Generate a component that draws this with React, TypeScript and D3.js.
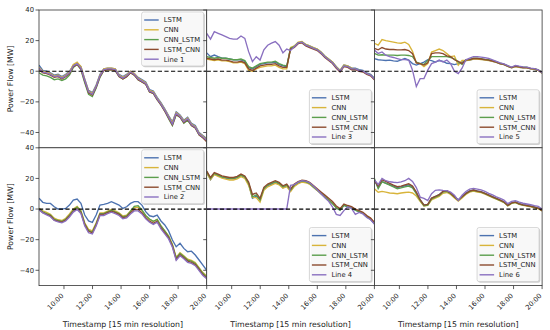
import * as d3 from "d3";

// readings across the window 08:15 - 20:00, one per column of the trace
const tStart = 8.25;
const tEnd = 20;
const times = d3.range(45).map((i) => tStart + (i * (tEnd - tStart)) / 44);
const tickHours = [10, 12, 14, 16, 18, 20];
const tickLabels = ["10:00", "12:00", "14:00", "16:00", "18:00", "20:00"];
const yTicks = [40, 20, 0, -20, -40];
const models = ["LSTM", "CNN", "CNN_LSTM", "LSTM_CNN"];
const colors = ["#4c72b0", "#d8b43a", "#5b9e4c", "#8c4b2e", "#8a70c0"];

// Line 1
const l1Lstm = [4, 0.5, 0, -1, -2.5, -2, -3.5, -2, 0, 4, 5.5, 3, -5, -12.5, -14, -9, -2, 1.5, 2, 2, 1.5, -2, -3.5, -2, 0, -1.5, -4, -5.5, -7, -12, -13, -17, -20.5, -24.5, -29, -33, -26.5, -28.5, -32, -30, -34, -35.5, -40, -42, -44];
const l1Cnn = [2.5, 0, -0.5, -1.5, -3, -2.5, -4, -2.5, -0.5, 4.5, 6, 3, -5.5, -13, -14.5, -9.5, -2.5, 1.5, 2, 2, 1.5, -2.5, -4, -2.5, 0, -1.5, -4.5, -6, -7.5, -12.5, -13.5, -17.5, -21, -25, -29.5, -33.5, -27, -29, -32.5, -30.5, -34.5, -36, -40.5, -42.5, -44.5];
const l1CnnLstm = [-1, -2.5, -3, -4, -5.5, -5, -6, -5, -2.5, 2.5, 4.5, 1, -7.5, -15, -16.5, -11, -4, 0.5, 1, 1, 0.5, -3.5, -5, -3.5, -1, -2.5, -5.5, -7, -8.5, -13.5, -14.5, -18.5, -22, -26, -31, -35.5, -28.5, -30, -34, -32, -35.5, -37, -41.5, -43.5, -45.5];
const l1LstmCnn = [1, -1, -1.5, -2.5, -4, -3.5, -5, -3.5, -1.5, 3, 4.5, 1.5, -6.5, -14, -15.5, -10.5, -3.5, 0.5, 1, 1, 0.5, -3.5, -5, -3.5, -1, -2.5, -5.5, -7, -8.5, -13.5, -14.5, -18.5, -22, -26, -30.5, -35, -28, -30, -33.5, -31.5, -35.5, -37, -41.5, -43.5, -46];
const l1Actual = [2, -0.5, -1, -2, -3.5, -3, -4.5, -3, -1, 3.5, 5, 2, -6, -13.5, -15, -10, -3, 1, 1.5, 1.5, 1, -3, -4.5, -3, -0.5, -2, -5, -6.5, -8, -13, -14, -18, -21.5, -25.5, -30, -34.5, -27.5, -29.5, -33, -31, -35, -36.5, -41, -43, -45];

// Line 2
const l2Lstm = [7, 4.4, 3.7, 3.7, 1.5, 0, 0, 0.4, 2.6, 5.9, 6.5, 3.7, -3.9, -7.8, -8.7, -3.9, 2.6, 3, 3.7, 4.8, 3.7, 2.6, 0.4, 1.5, 3.7, 4.8, 4.8, 2.6, -1.7, -4.4, -5, -3.9, -7.8, -10.4, -14.3, -20.2, -24.6, -22.4, -25.7, -27.9, -27.5, -30, -33.3, -36.6, -40];
const l2Cnn = [0.5, -1.2, -2.2, -3.5, -6, -7, -7.5, -6, -3.2, 0, 1.8, -1, -9, -13.2, -14.2, -9, -2.5, -2.5, -1.3, -0.3, -1.2, -2.5, -4.5, -4, -1.3, 1.2, 1.2, -1, -4.5, -6.8, -8.2, -6.8, -11, -14.3, -17.5, -23, -31.5, -28.5, -30.5, -32.8, -33.5, -35, -38.3, -41.5, -43.7];
const l2CnnLstm = [0.2, -1.8, -3, -4, -6.7, -7.4, -8, -6.7, -4, -0.8, 1.2, -1.5, -9.6, -14, -15, -9.6, -3, -3, -1.8, -0.8, -1.8, -3, -5.2, -4.5, -1.5, 1.8, 2.2, -0.5, -4.2, -6.5, -8, -6.8, -11, -14.3, -17.8, -23.5, -32, -29, -31, -33.3, -34, -35.5, -38.8, -42, -44.5];
const l2LstmCnn = [-0.3, -2.3, -3.4, -4.5, -7.2, -7.9, -8.5, -7.2, -4.6, -1.4, 0.3, -2.3, -10.2, -14.5, -15.6, -10.2, -3.5, -3.5, -2.4, -1.4, -2.4, -3.5, -5.7, -5.1, -2.4, -0.3, -0.3, -2.4, -5.7, -7.9, -9.4, -7.9, -12.2, -15.5, -18.7, -24.2, -32.8, -29.8, -31.8, -34, -34.8, -36.3, -39.5, -42.8, -45];
const l2Actual = [-0.5, -2.5, -3.8, -5, -7.5, -8.4, -9, -7.8, -5.2, -2, -0.3, -3, -11, -15.5, -16.3, -11, -4.2, -4.2, -3, -2, -3, -4.2, -6.3, -5.8, -3.2, -1.2, -1.2, -3.2, -6.4, -8.6, -10, -8.6, -13, -16.2, -19.5, -25, -33.5, -30.5, -32.5, -34.8, -35.5, -37, -40.2, -43.5, -45.5];

// Line 3
const l3Lstm = [12, 9.5, 10.6, 9.5, 8.5, 8.5, 8, 7.5, 7.5, 7.5, 6.5, 2.5, 1.5, 3, 4.5, 5, 5.5, 5.5, 6, 4.5, 3.5, 3, 15, 16.5, 18.5, 19, 17.5, 16.5, 15.5, 14.5, 12.5, 10, 8, 6, 3, 0.5, 4, 3.5, 2, 2, 1, 0.5, -1, -2, -4.5];
const l3Cnn = [8, 7.5, 7, 7.5, 6.8, 6.8, 6.3, 5.5, 5.5, 6, 5, 0.5, 0, 1.5, 2.5, 3, 3.5, 3.5, 4, 2.5, 1.5, 1.5, 15.5, 16.5, 19, 19.5, 17.5, 16.5, 15.5, 14.5, 12.5, 10, 8, 6, 3, 0.5, 4, 3.5, 2, 1.5, 0.5, 0, -1.5, -2.5, -5];
const l3CnnLstm = [9.5, 9, 8.5, 9, 8.5, 8.5, 8, 7.5, 7.5, 8, 7, 3, 2, 3.5, 5, 5.5, 6, 6, 6.5, 5, 4, 3.5, 15, 16, 18.5, 19, 17, 16, 15, 14, 12, 9.5, 7.5, 5.5, 2.5, 0, 3.5, 3, 1.5, 1.5, 0.5, 0, -1.5, -2.5, -5];
const l3LstmCnn = [8.5, 8, 7.5, 8, 7.3, 7.3, 6.8, 6, 6, 6.5, 5.5, 1.5, 0.5, 2, 3.5, 4, 4.5, 4.5, 5, 3.5, 2.5, 2.5, 14.5, 15.5, 18, 18.5, 16.5, 15.5, 14.5, 13.5, 11.5, 9, 7, 5, 2, -0.5, 3, 2.5, 1, 1, 0, -0.5, -2, -3, -5.5];
const l3Actual = [24.8, 21, 25.9, 24.8, 23.7, 22.6, 21.5, 21, 21, 23, 21.5, 12.8, 6.3, 9.5, 7.3, 14, 17, 18.3, 19.4, 17, 12, 14.5, 13.5, 16, 18.5, 19, 17, 16, 15, 14, 12, 9.5, 7.5, 5.5, 2.5, 0, 3.5, 3, 1.5, 1.5, 0.5, 0, -1.5, -2.5, -5];

// Line 4
const l4Lstm = [24.2, 19.2, 23, 22, 20.8, 20.2, 19.8, 19.8, 20.5, 22, 20.8, 16.5, 7, 8.5, 6, 13, 15.2, 16.3, 17.5, 16.3, 14, 15.2, 12, 15.2, 17, 18, 17.6, 16.5, 14.3, 12.2, 10, 7.8, 5.8, 3.6, 0.8, -0.8, 2.4, 1.4, 0.8, -0.8, -1.8, -2.9, -5.2, -6.7, -9.6];
const l4Cnn = [23.5, 19.3, 22.5, 21.4, 20.2, 19.6, 19, 19, 19.7, 21.2, 20, 15.5, 7.5, 7.5, 4.5, 12.2, 14.5, 15.6, 16.8, 15.8, 13.6, 14.6, 11.4, 14.8, 16.6, 17.6, 17.2, 16.2, 14.2, 12.1, 10, 7.9, 5.9, 3.8, 1.1, -0.4, 2.8, 1.9, 1.3, -0.3, -1.3, -2.4, -4.6, -6.1, -9];
const l4CnnLstm = [24.4, 20, 23.3, 22.2, 21, 20.5, 20, 20, 20.7, 22.2, 21, 16.8, 8, 9.2, 5.9, 13.5, 15.7, 16.8, 17.9, 16.8, 14.6, 15.7, 12.4, 15.7, 17.4, 18.3, 17.9, 16.8, 14.6, 12.4, 10.2, 8, 5.9, 3.7, 0.9, -0.7, 2.5, 1.5, 0.9, -0.7, -1.7, -2.8, -5, -6.5, -9.4];
const l4LstmCnn = [24.8, 20.6, 23.8, 22.8, 21.6, 21.1, 20.6, 20.6, 21.3, 22.8, 21.6, 17.6, 9.5, 10.5, 7, 14.2, 16.3, 17.4, 18.5, 17.4, 15.2, 16.3, 13, 16.3, 18, 18.9, 18.5, 17.5, 15.4, 13.3, 11.2, 9.1, 7, 4.9, 2, 0.3, 3.3, 2.3, 1.6, 0, -1, -2.1, -4.3, -5.9, -8.8];
const l4Actual = [0, 0, 0, 0, 0, 0, 0, 0, 0, 0, 0, 0, 0, 0, 0, 0, 0, 0, 0, 0, 0, 0, 15.5, 16, 17.6, 18.5, 18.2, 17.2, 15, 12.6, 10, 7.4, 5, 1.5, -3.5, -4.2, -1, 1.5, 0.5, -3.5, -2.2, -3.2, -5.5, -7, -9.8];

// Line 5
const l5Lstm = [8.3, 7.5, 7.3, 7, 7.3, 6.8, 6.5, 7.5, 8.3, 7.3, 5, 4, 5, 6, 7.5, 7, 6, 7, 6.5, 5.2, 5, 4.3, 5, 6, 7, 7.3, 8, 8, 7.8, 7.4, 7.1, 6.5, 5.8, 4.8, 4.3, 3.1, 2.2, 3.1, 2.6, 2.2, 2.2, 1.5, 1.3, 0.5, -1.2];
const l5Cnn = [18.3, 17, 20.7, 20, 19.5, 19, 18.5, 18.3, 19, 17.5, 13, 5.5, 5, 3, 5, 12.5, 13.5, 14.5, 13.5, 11.5, 9.5, 10, 4, 7, 7, 7.3, 8, 8, 7.7, 7.3, 7, 6.5, 5.8, 4.8, 4.3, 3.1, 2.2, 3.1, 2.6, 2.2, 2.2, 1.5, 1.3, 0.5, -1.2];
const l5CnnLstm = [11.6, 10.5, 10.8, 10.5, 10.5, 10.5, 10.3, 10.5, 10.5, 10.3, 9.5, 6, 5, 4.5, 7, 9.5, 9.5, 9.5, 9.5, 9.5, 9, 8, 6, 4.5, 7.5, 7.8, 8.5, 8.5, 8.2, 7.8, 7.5, 6.9, 6.2, 5.2, 4.7, 3.5, 2.6, 3.5, 3, 2.6, 2.6, 1.9, 1.7, 0.9, -0.8];
const l5LstmCnn = [15, 14, 15.5, 14.5, 14.2, 14.2, 14, 14, 14.2, 13.5, 11.5, 5.5, 5, 4, 5.5, 11.5, 12, 12, 11.5, 10, 9.5, 7.5, 6.5, 5, 7.3, 7.6, 8.3, 8.3, 8, 7.6, 7.3, 6.7, 6, 5, 4.5, 3.3, 2.4, 3.3, 2.8, 2.4, 2.4, 1.7, 1.5, 0.7, -1];
const l5Actual = [13.8, 11.6, 12.6, 10.5, 9.5, 9, 8.3, 7.6, 7.6, 7.3, 0.7, -10, -4.8, -4.8, 0.7, 5, 6, 7.3, 6, 7.3, 5, 0, -1.5, 2, 7.5, 8.5, 9.5, 9.5, 9.2, 8.8, 8.4, 7.5, 6.5, 5.5, 4.8, 3.6, 2.7, 3.8, 3.3, 2.9, 2.7, 2, 1.7, 0.9, -1];

// Line 6
const l6Lstm = [19, 14, 18, 17, 16, 15, 14, 14.5, 15.2, 15.8, 14.5, 10.5, 6, 2.5, 3, 7, 8.3, 9.5, 11.6, 12, 10.5, 8.2, 6, 8.2, 10.4, 11.8, 12.5, 11.8, 11.4, 10.3, 9.2, 8.1, 7, 5.9, 4.7, 2.5, 4.2, 4.7, 3.6, 2.9, 2.5, 2, 1.4, 0.7, -0.9];
const l6Cnn = [13.3, 11, 11.5, 11, 10.5, 10.3, 10, 10.5, 10.8, 11, 10.5, 8.5, 5, 2, 2.4, 6, 7.2, 8.3, 10.3, 10.8, 9.5, 7.3, 5.2, 7.3, 9.5, 11, 11.7, 11.1, 10.7, 9.7, 8.6, 7.5, 6.4, 5.3, 4.2, 2, 3.7, 4.2, 3.1, 2.4, 2, 1.5, 0.9, 0.2, -1.3];
const l6CnnLstm = [20, 13.3, 17.8, 16.7, 15.6, 14.5, 13.3, 13.8, 14.5, 15, 13.8, 10, 5.6, 2.2, 2.6, 6.7, 7.8, 8.9, 11.1, 11.5, 10, 7.8, 5.6, 7.8, 10, 11.5, 12.2, 11.5, 11.1, 10, 8.9, 7.8, 6.7, 5.6, 4.4, 2.2, 3.9, 4.4, 3.3, 2.6, 2.2, 1.7, 1.1, 0.4, -1.1];
const l6LstmCnn = [18.5, 15, 19, 18, 16.8, 15.6, 14.6, 15, 15.8, 16.5, 15, 11, 6.2, 2.6, 3, 7.2, 8.2, 9.4, 11.5, 12, 10.3, 8, 5.8, 8, 10.2, 11.7, 12.4, 11.7, 11.2, 10.2, 9.1, 8, 6.9, 5.8, 4.6, 2.4, 4, 4.5, 3.4, 2.7, 2.3, 1.8, 1.2, 0.5, -1];
const l6Actual = [19, 16, 20, 18.5, 17.8, 17.5, 17.3, 17.8, 18.5, 20, 18, 14, 7.8, 7, 5.6, 10, 12.2, 12.5, 12.2, 12, 11, 9, 5.6, 9, 11.5, 13, 13.5, 13, 12.5, 11.5, 10.3, 9.2, 8, 7, 5.8, 3.5, 5, 5.5, 4.5, 3.8, 3.3, 2.8, 2.2, 1.7, 0];

const panels = [
  { name: "Line 1", row: 0, col: 0, legendTop: true, series: [l1Lstm, l1Cnn, l1CnnLstm, l1LstmCnn, l1Actual] },
  { name: "Line 3", row: 0, col: 1, legendTop: false, series: [l3Lstm, l3Cnn, l3CnnLstm, l3LstmCnn, l3Actual] },
  { name: "Line 5", row: 0, col: 2, legendTop: false, series: [l5Lstm, l5Cnn, l5CnnLstm, l5LstmCnn, l5Actual] },
  { name: "Line 2", row: 1, col: 0, legendTop: true, series: [l2Lstm, l2Cnn, l2CnnLstm, l2LstmCnn, l2Actual] },
  { name: "Line 4", row: 1, col: 1, legendTop: false, series: [l4Lstm, l4Cnn, l4CnnLstm, l4LstmCnn, l4Actual] },
  { name: "Line 6", row: 1, col: 2, legendTop: false, series: [l6Lstm, l6Cnn, l6CnnLstm, l6LstmCnn, l6Actual] },
];

export default function App() {
  const width = 550;
  const height = 330;
  const left = 39;
  const top = 10;
  const pw = 167.7;
  const ph = 137.8;

  const x = d3.scaleLinear().domain([tStart, tEnd]).range([0, pw]);
  const y = d3.scaleLinear().domain([-50, 40]).range([ph, 0]);
  const line = d3
    .line<number>()
    .x((_, i) => x(times[i]))
    .y((d) => y(d));

  const legW = 62;
  const legH = 54;
  const tickFont = 6.8;
  const labelFont = 7.8;

  return (
    <div>
      <style>{"body{margin:0}"}</style>
      <svg
        width={width}
        height={height}
        style={{ display: "block", fontFamily: "'DejaVu Sans', sans-serif" }}
      >
        <rect width={width} height={height} fill="white" />
        <defs>
          <clipPath id="panel-clip">
            <rect width={pw} height={ph} />
          </clipPath>
        </defs>

        {panels.map((p) => {
          const lx = pw - 3 - legW;
          const ly = p.legendTop ? 2 : ph - 4 - legH;
          const labels = [...models, p.name];
          return (
            <g key={p.name} transform={`translate(${left + p.col * pw},${top + p.row * ph})`}>
              <rect width={pw} height={ph} fill="white" />
              <g clipPath="url(#panel-clip)">
                {p.series.map((s, i) => (
                  <path key={i} d={line(s) || ""} fill="none" stroke={colors[i]} strokeWidth={1.35} />
                ))}
              </g>
              <line
                x1={0}
                x2={pw}
                y1={y(0)}
                y2={y(0)}
                stroke="black"
                strokeWidth={1.2}
                strokeDasharray="4.2,2.4"
              />
              <rect width={pw} height={ph} fill="none" stroke="#333" strokeWidth={0.8} />

              {yTicks.map((t) => (
                <g key={t} transform={`translate(0,${y(t)})`}>
                  <line x1={-3.5} x2={0} stroke="#333" strokeWidth={0.8} />
                  {p.col === 0 && (
                    <text x={-5} dy="0.35em" fontSize={tickFont} textAnchor="end" fill="#222">
                      {t < 0 ? `\u2212${-t}` : t}
                    </text>
                  )}
                </g>
              ))}

              {p.row === 1 &&
                tickHours.map((h, i) => (
                  <g key={h} transform={`translate(${x(h)},${ph})`}>
                    <line y1={0} y2={3.5} stroke="#333" strokeWidth={0.8} />
                    <text
                      transform="translate(-1.7,9) rotate(-45)"
                      fontSize={tickFont}
                      textAnchor="end"
                      dy="0.35em"
                      fill="#222"
                    >
                      {tickLabels[i]}
                    </text>
                  </g>
                ))}

              <g transform={`translate(${lx},${ly})`}>
                <rect x={1.2} y={1.2} width={legW} height={legH} rx={2} fill="#999" opacity={0.45} />
                <rect
                  width={legW}
                  height={legH}
                  rx={2}
                  fill="white"
                  fillOpacity={0.85}
                  stroke="#ccc"
                  strokeWidth={0.8}
                />
                {labels.map((lab, i) => (
                  <g key={lab} transform={`translate(0,${8 + i * 9.8})`}>
                    <line x1={2.5} x2={17} stroke={colors[i]} strokeWidth={1.4} />
                    <text x={22} dy="0.35em" fontSize={tickFont} fill="#222">
                      {lab}
                    </text>
                  </g>
                ))}
              </g>
            </g>
          );
        })}

        {[0, 1].map((r) => (
          <text
            key={r}
            transform={`translate(13,${top + r * ph + ph / 2}) rotate(-90)`}
            textAnchor="middle"
            fontSize={labelFont}
            fill="#222"
          >
            Power Flow [MW]
          </text>
        ))}

        {[0, 1, 2].map((c) => (
          <text
            key={c}
            x={left + c * pw + pw / 2}
            y={326.5}
            textAnchor="middle"
            fontSize={labelFont}
            fill="#222"
          >
            Timestamp [15 min resolution]
          </text>
        ))}
      </svg>
    </div>
  );
}
